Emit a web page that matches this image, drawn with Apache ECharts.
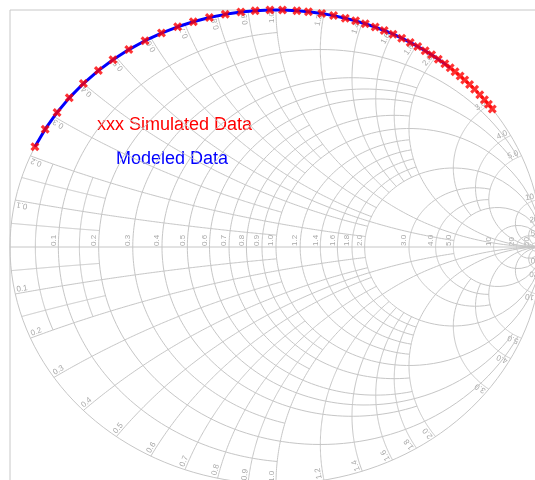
<!DOCTYPE html>
<html>
<head>
<meta charset="utf-8">
<script src="https://cdn.jsdelivr.net/npm/echarts@6/dist/echarts.min.js"></script>
<style>
html, body { margin: 0; padding: 0; background: #fff; }
#smith { width: 535px; height: 480px; }
</style>
</head>
<body>
<div id="smith"></div>
<script>
// S11: phase in degrees, |S11| ~ 1 (points sit on the rim)
var simPhase = [155.0, 150.2, 145.4, 141.0, 136.4, 131.9, 127.8, 123.6, 119.5, 115.5,
  111.7, 108.1, 104.5, 101.0, 97.6, 94.5, 91.3, 88.6, 85.5, 83.0,
  80.1, 77.5, 74.9, 72.6, 70.4, 68.1, 66.0, 63.9, 61.8, 59.7,
  57.8, 55.9, 54.2, 52.4, 50.6, 49.1, 47.7, 46.2, 44.8, 43.3,
  41.7, 40.0, 38.4, 37.0, 35.6];
var simMag = 1.0;
var modPhase = [155.0, 150.2, 145.4, 141.0, 136.4, 131.9, 127.8, 123.6, 119.5, 115.5,
  111.7, 108.1, 104.5, 101.0, 97.6, 94.5, 91.3, 88.6, 85.5, 83.0,
  80.1, 77.5, 74.9, 72.6, 70.4, 68.1, 66.0, 63.9, 61.8, 59.7,
  57.8, 55.9, 54.2, 52.4, 50.6, 49.1];
var modMag = 1.0;

// smith grid: [value, extent] - resistance circles run to |x| = extent,
// reactance arcs run from r = 0 to r = extent
var INF = Infinity;
var resArcs = [[0.05, 0.2], [0.1, 1], [0.15, 0.2], [0.2, 5], [0.3, 1], [0.4, 2], [0.5, 5],
  [0.6, 2], [0.7, 1], [0.8, 2], [0.9, 1], [1.0, INF], [1.2, 2], [1.4, 2], [1.6, 2],
  [1.8, 2], [2.0, INF], [3.0, 5], [4.0, 5], [5.0, INF], [10, INF], [20, 50], [50, INF]];
var reactArcs = [[0.05, 0.2], [0.1, 1], [0.15, 0.2], [0.2, 2], [0.3, 1], [0.4, 2], [0.5, 5],
  [0.6, 2], [0.7, 1], [0.8, 2], [0.9, 1], [1.0, INF], [1.2, 2], [1.4, 2], [1.6, 2],
  [1.8, 2], [2.0, INF], [3.0, 5], [4.0, 5], [5.0, INF], [10, INF], [20, 50], [50, INF]];
var resLabels = [0.1, 0.2, 0.3, 0.4, 0.5, 0.6, 0.7, 0.8, 0.9, 1.0, 1.2, 1.4, 1.6, 1.8, 2.0, 3.0, 4.0, 5.0, 10, 20, 50];
var reactLabels = [0.1, 0.2, 0.3, 0.4, 0.5, 0.6, 0.7, 0.8, 0.9, 1.0, 1.2, 1.4, 1.6, 1.8, 2.0, 3.0, 4.0, 5.0, 10, 20, 50];

var gridColor = '#c6c6c6';
var labelColor = '#a8a8a8';

function gam(r, x) {
  var d = (r + 1) * (r + 1) + x * x;
  return [(r * r + x * x - 1) / d, 2 * x / d];
}
function resArc(r, x0, x1) {
  var pts = [], t0 = Math.atan(x0), t1 = Math.atan(x1), n = 160;
  for (var i = 0; i <= n; i++) {
    var t = t0 + (t1 - t0) * i / n;
    var x = Math.abs(t) >= Math.PI / 2 ? (t > 0 ? 1e12 : -1e12) : Math.tan(t);
    pts.push(gam(r, x));
  }
  return pts;
}
function reactArc(x, r0, r1) {
  var pts = [], s0 = Math.atan(r0), s1 = Math.atan(r1), n = 160;
  for (var i = 0; i <= n; i++) {
    var s = s0 + (s1 - s0) * i / n;
    var r = s >= Math.PI / 2 ? 1e12 : Math.tan(s);
    pts.push(gam(r, x));
  }
  return pts;
}

var gridLines = [];
gridLines.push({ coords: resArc(0, -INF, INF) });   // rim
gridLines.push({ coords: [[-1, 0], [1, 0]] });      // real axis
resArcs.forEach(function (a) {
  gridLines.push({ coords: resArc(a[0], -a[1], a[1]) });
});
reactArcs.forEach(function (a) {
  gridLines.push({ coords: reactArc(a[0], 0, a[1]) });
  gridLines.push({ coords: reactArc(-a[0], 0, a[1]) });
});

function toXY(phase, mag) {
  return phase.map(function (p) {
    var a = p * Math.PI / 180;
    return [mag * Math.cos(a), mag * Math.sin(a)];
  });
}

var chart = echarts.init(document.getElementById('smith'));
var option = {
  animation: false,
  backgroundColor: '#fff',
  grid: {
    left: 10, top: 10, width: 540, height: 500, outerBoundsMode: 'none',
    show: true, borderColor: '#c8c8c8', borderWidth: 1
  },
  xAxis: { type: 'value', min: -1, max: -1 + 540 / 266, show: false },
  yAxis: { type: 'value', max: 1, min: 1 - 500 / 237, show: false },
  series: [
    {
      type: 'lines', coordinateSystem: 'cartesian2d', polyline: true, silent: true,
      lineStyle: { color: gridColor, width: 1, opacity: 1 },
      data: gridLines, z: 1
    },
    {
      name: 'Modeled Data', type: 'line', data: toXY(modPhase, modMag),
      showSymbol: false, smooth: false, clip: false,
      lineStyle: { color: '#0000ff', width: 3 }, z: 3
    },
    {
      name: 'Simulated Data', type: 'scatter', data: toXY(simPhase, simMag), clip: false,
      symbol: 'path://M0,2.5 L2.5,0 L5,2.5 L7.5,0 L10,2.5 L7.5,5 L10,7.5 L7.5,10 L5,7.5 L2.5,10 L0,7.5 L2.5,5 Z',
      symbolSize: 9, itemStyle: { color: '#ff0000' }, z: 4
    }
  ]
};
chart.setOption(option);

// labels placed with the grid's own scale
function px(p) { return chart.convertToPixel({ gridIndex: 0 }, p); }
function fmt(v) { return v >= 10 ? String(v) : v.toFixed(1); }
var labelFont = '8px "Liberation Sans", Arial, sans-serif';
var graphics = [];
resLabels.forEach(function (r) {
  var p = px([(r - 1) / (r + 1), 0]);
  graphics.push({
    type: 'text', x: p[0] - 1, y: p[1] - 1, rotation: Math.PI / 2, silent: true,
    style: { text: fmt(r), fill: labelColor, font: labelFont, align: 'left', verticalAlign: 'bottom' }
  });
});
reactLabels.forEach(function (x) {
  [x, -x].forEach(function (xv) {
    var g = gam(0, xv);
    var p0 = px(g), p1 = px([g[0] * 0.9, g[1] * 0.9]);
    var dx = p1[0] - p0[0], dy = p1[1] - p0[1], len = Math.sqrt(dx * dx + dy * dy);
    dx /= len; dy /= len;
    var ang = Math.atan2(-dy, dx);
    var upper = xv > 0;
    graphics.push({
      type: 'text', x: p0[0] + dx * 2, y: p0[1] + dy * 2,
      rotation: upper ? ang + Math.PI : ang, silent: true,
      style: { text: fmt(x), fill: labelColor, font: labelFont, align: upper ? 'right' : 'left', verticalAlign: 'bottom' }
    });
  });
});
graphics.push({
  type: 'text', x: 97, y: 125, silent: true,
  style: { text: 'xxx Simulated Data', fill: '#ff0000', font: '18px "Liberation Sans", Arial, sans-serif', verticalAlign: 'middle' }
});
graphics.push({
  type: 'text', x: 116, y: 159, silent: true,
  style: { text: 'Modeled Data', fill: '#0000ff', font: '18px "Liberation Sans", Arial, sans-serif', verticalAlign: 'middle' }
});
chart.setOption({ graphic: graphics });
</script>
</body>
</html>
